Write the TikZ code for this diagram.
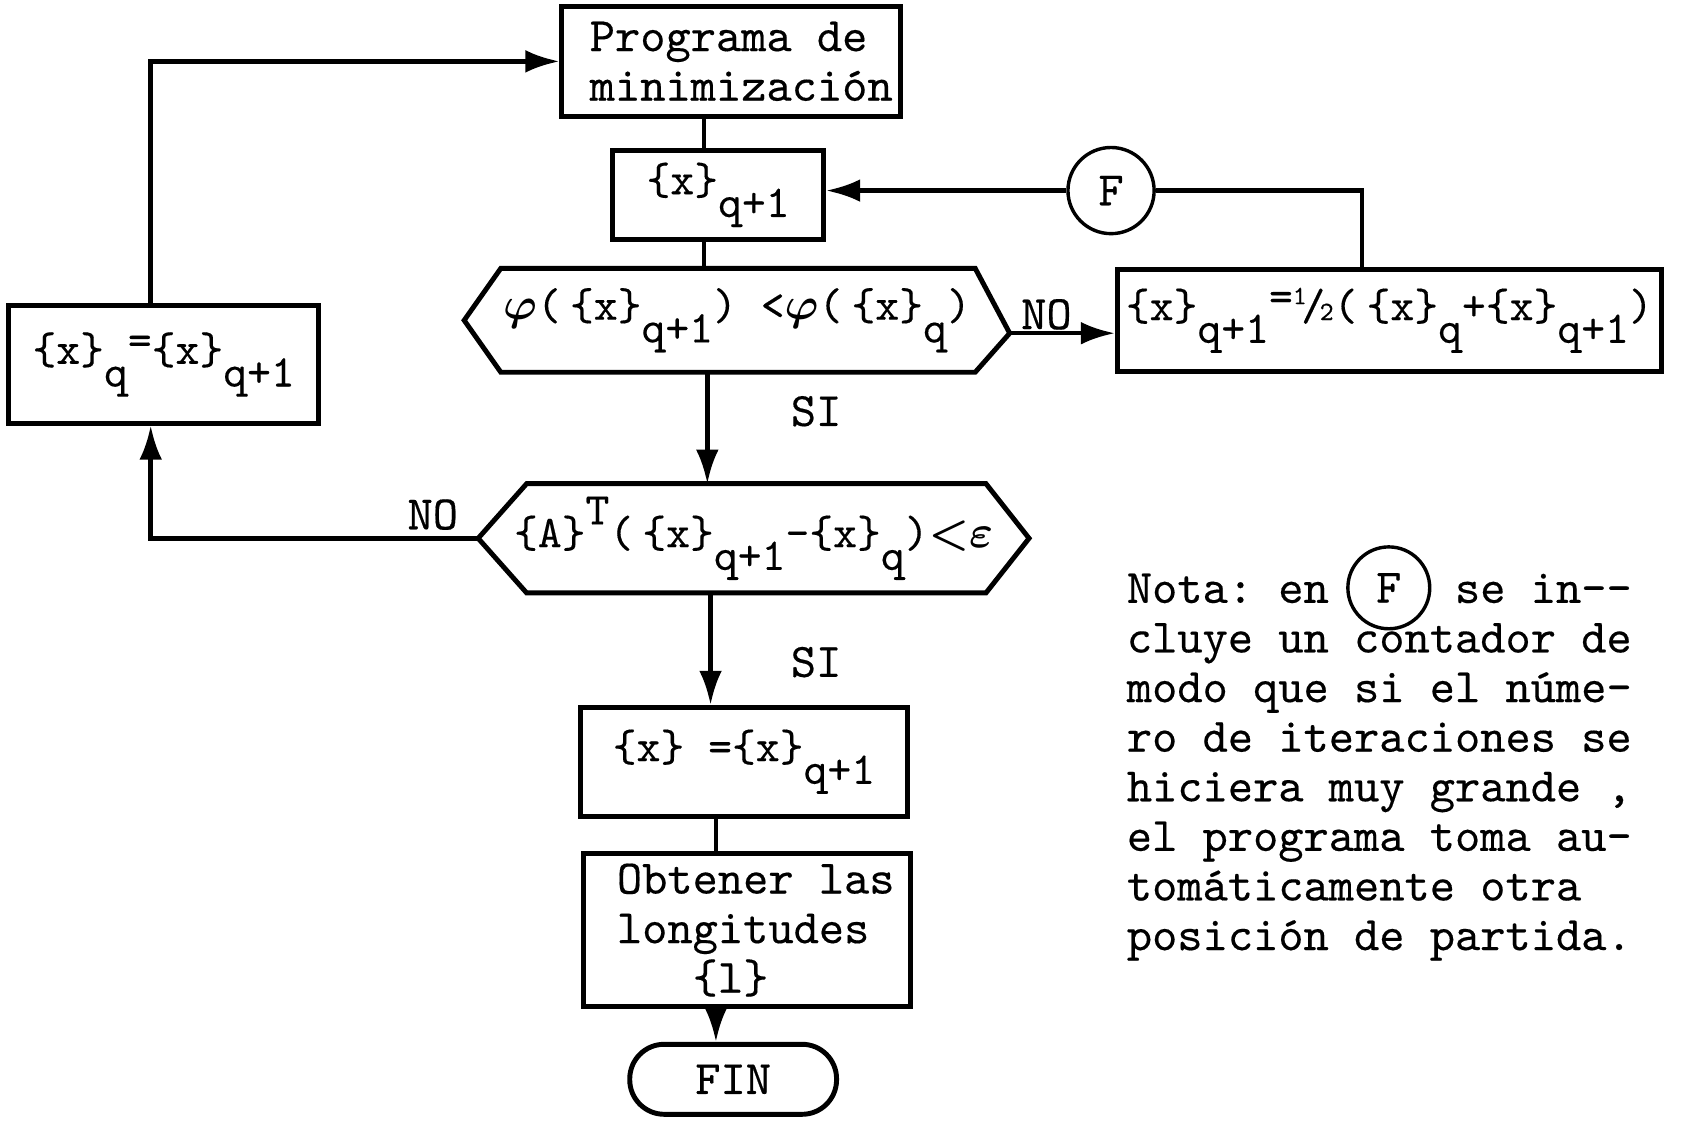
\documentclass[tikz,border=0pt]{standalone}
\usepackage{amsmath}
\usepackage{fontspec}
\newfontfamily\tw[FakeBold=0.3]{lmmono10-regular.otf}
\usetikzlibrary{arrows.meta}
\newcommand\lowq[1]{\raisebox{-0.5em}{#1}}
\newcommand\highq[1]{\raisebox{0.5em}{#1}}
\newcommand\halfq{\raisebox{0.35em}{\fontsize{7pt}{7pt}\selectfont 1}\kern-0.12em/\kern-0.12em{\fontsize{7pt}{7pt}\selectfont 2}}
\begin{document}
\frenchspacing
\begin{tikzpicture}[x=0.01cm,y=-0.01cm,
  font={\tw\fontsize{12.7pt}{13.1pt}\selectfont},
  formula/.style={font={\tw\fontsize{12pt}{13pt}\selectfont}},
  box/.style={draw, line width=1.3pt, inner sep=0pt, align=left},
  hexnode/.style={inner sep=0pt, align=left},
  conn/.style={line width=1.2pt},
  arr/.style={conn, -{Latex[length=9pt,width=6pt]}},
  lbl/.style={inner sep=0pt}]
\useasboundingbox (0,0) rectangle (1567,1058.9);
% nodes
\node[box, minimum width=3.14cm, minimum height=1.02cm] (box1) at (679,57) {\hspace*{0.19cm}Programa de\\\hspace*{0.19cm}minimización};
\node[box, formula, minimum width=1.96cm, minimum height=0.82cm] (box2) at (667,181) {\{x\}\lowq{q+1}};
\node[hexnode, formula, minimum width=5.05cm, minimum height=0.95cm] (hex1) at (684.5,297.5) {$\boldsymbol{\varphi}$(\kern0.2em\{x\}\lowq{q+1}) <$\boldsymbol{\varphi}$(\kern0.2em\{x\}\lowq{q})};
\node[hexnode, formula, minimum width=5.10cm, minimum height=1.00cm] (hex2) at (700,500) {\{A\}\highq{T}(\kern0.2em\{x\}\lowq{q+1}-\{x\}\lowq{q})${\boldsymbol{<}}{\boldsymbol{\varepsilon}}$};
\node[box, formula, minimum width=5.05cm, minimum height=0.95cm] (box4) at (1290.5,297.5) {\{x\}\lowq{q+1}\raisebox{0.2em}{=}\halfq(\kern0.2em\{x\}\lowq{q}+\{x\}\lowq{q+1})};
\node[draw, circle, line width=0.9pt, minimum size=0.80cm, inner sep=0pt] (F) at (1032,177) {F};
\node[box, formula, minimum width=2.88cm, minimum height=1.09cm] (box5) at (152,338.5) {\{x\}\lowq{q}\raisebox{0.2em}{=}\{x\}\lowq{q+1}};
\node[box, formula, minimum width=3.04cm, minimum height=1.01cm] (box6) at (691,707.5) {\{x\} =\{x\}\lowq{q+1}};
\node[box, minimum width=3.04cm, minimum height=1.42cm] (box7) at (694,864) {\hspace*{0.16cm}Obtener las\\\hspace*{0.16cm}longitudes\\\hspace*{0.16cm}~~~\{l\}};
\node[box, minimum width=1.92cm, minimum height=0.65cm, rounded corners=0.32cm, align=center] (fin) at (681,1002.5) {FIN};
% hexagon outlines
\coordinate (h1r) at ([yshift=-0.12cm]hex1.east);
\draw[line width=1.3pt] (hex1.west) -- ([xshift=0.34cm]hex1.north west) -- ([xshift=-0.32cm]hex1.north east)
  -- (h1r) -- ([xshift=-0.32cm]hex1.south east) -- ([xshift=0.34cm]hex1.south west) -- cycle;
\draw[line width=1.3pt] (hex2.west) -- ([xshift=0.45cm]hex2.north west) -- ([xshift=-0.40cm]hex2.north east)
  -- (hex2.east) -- ([xshift=-0.40cm]hex2.south east) -- ([xshift=0.45cm]hex2.south west) -- cycle;
% spine coordinates
\coordinate (s1) at (654,0);
\coordinate (s2) at (657,0);
\coordinate (s3) at (660,0);
\coordinate (s4) at (665,0);
\coordinate (c1) at (1265,0);
\coordinate (c2) at (140,0);
% connectors
\draw[conn] (box1.south -| s1) -- (box2.north -| s1);
\draw[conn] (box2.south -| s1) -- (hex1.north -| s1);
\draw[arr] (hex1.south -| s2) -- (hex2.north -| s2);
\draw[arr] (h1r) -- (h1r -| box4.west);
\draw[conn] (box4.north -| c1) |- (F.east);
\draw[arr] (F.west) -- (F.west -| box2.east);
\draw[arr] (hex2.west) -| (box5.south -| c2);
\draw[arr] (box5.north -| c2) |- (box1.west);
\draw[arr] (hex2.south -| s3) -- (box6.north -| s3);
\draw[conn] (box6.south -| s4) -- (box7.north -| s4);
\draw[arr] (box7.south -| s4) -- (fin.north -| s4);
% labels
\node[lbl] (si1) at (758,382) {SI};
\node[lbl] (si2) at (758,615) {SI};
\node[lbl] (no1) at (972,292) {NO};
\node[lbl] (no2) at (402,478) {NO};
% note
\node[anchor=north west, inner sep=0pt, align=left] (note) at (1046,532)
 {Nota: en~~~~~se in-{}-\\
  cluye un contador de\\
  modo que si el núme-\\
  ro de iteraciones se\\
  hiciera muy grande ,\\
  el programa toma au-\\
  tomáticamente otra\\
  posición de partida.};
\node[draw, circle, line width=0.9pt, minimum size=0.76cm, inner sep=0pt] (F2) at (1290,546) {F};
\end{tikzpicture}
\end{document}
